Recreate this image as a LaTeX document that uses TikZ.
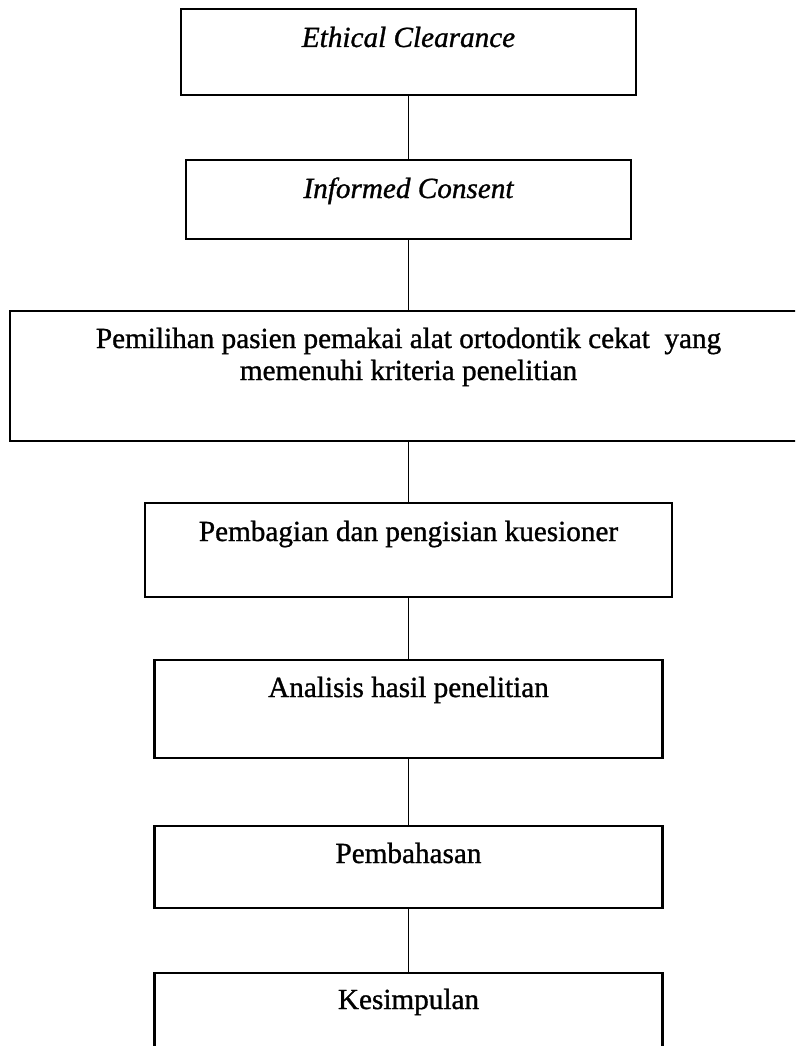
\documentclass[tikz,border=0pt]{standalone}
\usepackage{fontspec}
\setmainfont{Liberation Serif}[FakeBold=1]
\begin{document}
\begin{tikzpicture}[x=1pt,y=-1pt,
  box/.style={draw=black, line width=2.4pt, inner sep=0pt, rectangle},
  lbl/.style={font=\fontsize{29.2}{32}\selectfont, inner sep=0pt, anchor=base},
  conn/.style={draw=black, line width=1.6pt}]
\useasboundingbox (0,0) rectangle (795,1046);
\clip (0,0) rectangle (795,1046);
\fill[white] (0,0) rectangle (795,1046);
% boxes
\node[box, minimum width=455pt, minimum height=86pt] (b1) at (408.5,52) {};
\node[box, minimum width=445pt, minimum height=79pt] (b2) at (408.5,199.5) {};
\node[box, minimum width=797pt, minimum height=130pt] (b3) at (408.5,376) {};
\node[box, minimum width=527pt, minimum height=94pt] (b4) at (408.5,550) {};
\node[box, minimum width=508pt, minimum height=98pt] (b5) at (408.5,709) {};
\node[box, minimum width=508pt, minimum height=82pt] (b6) at (408.5,867) {};
\node[box, minimum width=508pt, minimum height=116pt] (b7) at (408.5,1031) {};
% labels
\node[lbl] (t1) at (408.5,47) {\itshape Ethical Clearance};
\node[lbl] (t2) at (408.5,198) {\itshape Informed Consent};
\node[lbl] (t3a) at (408.5,348) {Pemilihan pasien pemakai alat ortodontik cekat\ \ yang};
\node[lbl] (t3b) at (408.5,380) {memenuhi kriteria penelitian};
\node[lbl] (t4) at (408.5,541) {Pembagian dan pengisian kuesioner};
\node[lbl] (t5) at (408.5,697) {Analisis hasil penelitian};
\node[lbl] (t6) at (408.5,863) {Pembahasan};
\node[lbl] (t7) at (408.5,1009) {Kesimpulan};
% connectors
\draw[conn] (b1.south) -- (b2.north);
\draw[conn] (b2.south) -- (b3.north);
\draw[conn] (b3.south) -- (b4.north);
\draw[conn] (b4.south) -- (b5.north);
\draw[conn] (b5.south) -- (b6.north);
\draw[conn] (b6.south) -- (b7.north);
\end{tikzpicture}
\end{document}
